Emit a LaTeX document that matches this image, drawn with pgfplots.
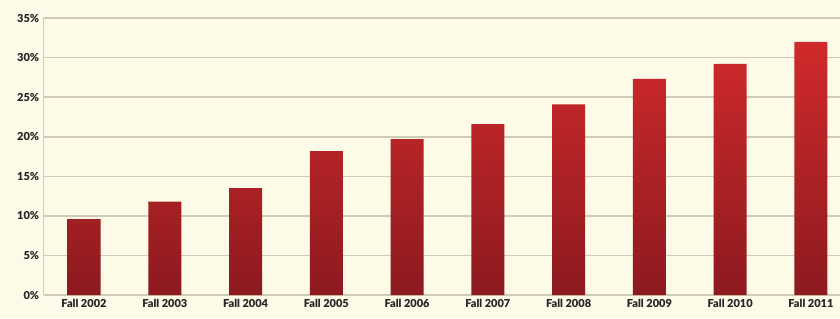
\documentclass[border=0pt]{standalone}
\usepackage{pgfplots}
\pgfplotsset{compat=1.18}
\usepackage{fontspec}
\setmainfont{Lato}[BoldFont={Lato Black}]
\usetikzlibrary{backgrounds}
\definecolor{cream}{HTML}{FDFAE8}
\definecolor{gridc}{HTML}{CFCBB6}
\definecolor{bartop}{HTML}{D02A2B}
\definecolor{barbot}{HTML}{8C1A1F}
\definecolor{txt}{HTML}{262626}
\begin{document}
\begin{tikzpicture}
\begin{axis}[
  name=ax,
  scale only axis,
  width=796bp, height=277bp,
  xmin=-0.5, xmax=9.36,
  ymin=0, ymax=35,
  axis lines*=left,
  axis line style={gridc, line width=1.3bp},
  x axis line style={-}, y axis line style={-},
  ytick={0,5,...,35},
  yticklabel={\pgfmathprintnumber{\tick}\%},
  ymajorgrids,
  grid style={gridc, line width=1.5bp},
  major tick length=4bp,
  tick style={gridc, line width=1bp},
  ytick pos=left,
  xtick={0,...,9},
  xticklabels={Fall 2002,Fall 2003,Fall 2004,Fall 2005,Fall 2006,Fall 2007,Fall 2008,Fall 2009,Fall 2010,Fall 2011},
  x tick style={draw=none},
  extra x ticks={0.5,1.5,...,8.5},
  extra x tick labels={},
  extra x tick style={tick style={gridc, line width=1bp, draw=gridc}, major tick length=4bp, xtick pos=bottom, tick align=outside, xmajorgrids=false},
  tick label style={font=\bfseries\fontsize{11bp}{13bp}\selectfont, text=txt},
  yticklabel style={xshift=-1bp},
  xticklabel style={yshift=-1bp},
  /pgf/number format/assume math mode=true,
  clip=false,
]
\addplot[ybar, bar width=33bp, draw=none, top color=bartop, bottom color=barbot] coordinates {
 (0,9.6) (1,11.8) (2,13.5) (3,18.2) (4,19.7) (5,21.6) (6,24.1) (7,27.3) (8,29.2) (9,32.0)
};
\end{axis}
\pgfresetboundingbox
\path[use as bounding box] ([xshift=-43.6bp,yshift=-23bp]ax.south west) rectangle ([yshift=18bp]ax.north east);
\begin{scope}[on background layer]
\fill[cream] ([xshift=-43.6bp,yshift=-23bp]ax.south west) rectangle ([yshift=18bp]ax.north east);
\end{scope}
\end{tikzpicture}
\end{document}
